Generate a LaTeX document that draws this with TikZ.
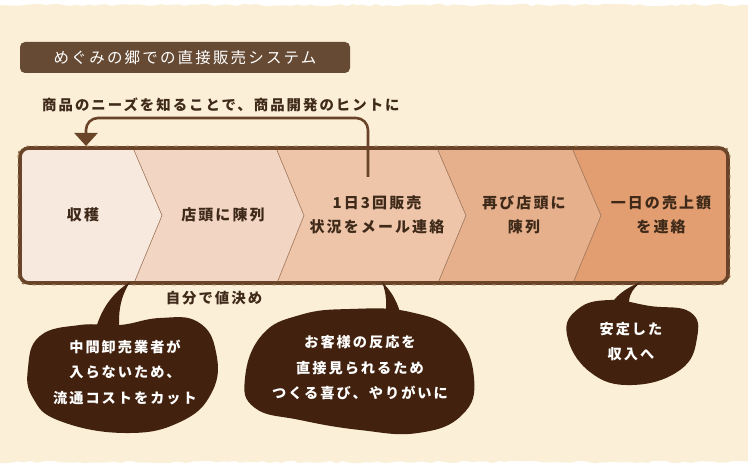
\documentclass[tikz,border=0pt]{standalone}
\usepackage{fontspec}
\setmainfont{Noto Sans CJK JP}
\newfontfamily\jpsp{Noto Sans CJK JP}[LetterSpace=14]
\usetikzlibrary{decorations.pathmorphing,arrows.meta}
\definecolor{cream}{HTML}{FBEFD7}
\definecolor{tabbrown}{HTML}{664A33}
\definecolor{bubble}{HTML}{42220E}
\definecolor{ink}{HTML}{3F2A1A}
\definecolor{bandline}{HTML}{694428}
\definecolor{bandlight}{HTML}{94704F}
\definecolor{segA}{HTML}{F8E9DF}
\definecolor{segB}{HTML}{F2D5C3}
\definecolor{segC}{HTML}{EEC5A9}
\definecolor{segD}{HTML}{E6B08C}
\definecolor{segE}{HTML}{E29E71}
\definecolor{divline}{HTML}{9C7458}
\tikzset{
  tabbox/.style={fill=tabbrown, rounded corners=5pt, minimum width=330pt, minimum height=31pt, inner sep=0pt,
    text=white, font=\jpsp\fontsize{15.5}{18}\selectfont},
  hinttext/.style={text=ink, font=\jpsp\bfseries\fontsize{14.4}{18}\selectfont, inner sep=0pt},
  steptext/.style={text=ink, align=center, font=\jpsp\bfseries\fontsize{15}{24}\selectfont, inner sep=0pt},
  bubtext/.style={text=white, align=center, font=\jpsp\bfseries\fontsize{14.2}{25.5}\selectfont, inner sep=0pt},
  fbline/.style={draw=bandline, line width=2.6pt, rounded corners=12pt},
  texture/.style={draw=bandlight, line width=1.2pt, dash pattern=on 3pt off 6pt on 2pt off 9pt},
  bubfill/.style={fill=bubble},
}
\begin{document}
\begin{tikzpicture}[x=1pt,y=-1pt]
\useasboundingbox (0,0) rectangle (748,468);
\fill[white] (0,0) rectangle (748,468);
\pgfmathsetseed{11}
\fill[cream, decorate, decoration={random steps,segment length=6pt,amplitude=1.3pt}]
  (-8,5) -- (756,5) -- (756,462) -- (-8,462) -- cycle;

% title
\node[tabbox] (title) at (185,57.5) {めぐみの郷での直接販売システム};

% hint text
\node[hinttext, anchor=west] (hint) at (42,105) {商品のニーズを知ることで、商品開発のヒントに};

% band segments
\begin{scope}
\clip[rounded corners=9pt] (20,148) rectangle (728,283);
\fill[segE] (10,140) rectangle (740,290);
\fill[segD] (10,148) -- (572,148) -- (601,215.5) -- (573,283) -- (10,283) -- cycle;
\fill[segC] (10,148) -- (437,148) -- (466,215.5) -- (438,283) -- (10,283) -- cycle;
\fill[segB] (10,148) -- (276,148) -- (304,215.5) -- (277,283) -- (10,283) -- cycle;
\fill[segA] (10,148) -- (133,148) -- (162,215.5) -- (134,283) -- (10,283) -- cycle;
\draw[divline, line width=0.6pt] (133,148) -- (162,215.5) -- (134,283);
\draw[divline, line width=0.6pt] (276,148) -- (304,215.5) -- (277,283);
\draw[divline, line width=0.6pt] (437,148) -- (466,215.5) -- (438,283);
\draw[divline, line width=0.6pt] (572,148) -- (601,215.5) -- (573,283);
\end{scope}
\node[draw=bandline, line width=3.6pt, rounded corners=9pt, minimum width=708pt, minimum height=135pt, inner sep=0pt]
  (band) at (374,215.5) {};
\draw[texture, rounded corners=9pt] (band.north west) rectangle (band.south east);

\node[steptext] (s1) at (83,215) {収穫};
\node[steptext] (s2) at (223,215) {店頭に陳列};
\node[steptext] (s3) at (377,215) {1日3回販売\\状況をメール連絡};
\node[steptext] (s4) at (524,215) {再び店頭に\\陳列};
\node[steptext] (s5) at (661,215) {一日の売上額\\を連絡};

% feedback arrow
\coordinate (fbfrom) at (368,177);
\coordinate (fbto) at (86,146);
\draw[fbline, -{Triangle[width=23pt,length=13pt]}] (fbfrom) -- (368,118) -- (86,118) -- (fbto);

% price label
\node[hinttext] (price) at (214,298) {自分で値決め};

% bubble 1
\fill[bubfill] (94,336) .. controls (100,308) and (114,292) .. (130,282) .. controls (121,296) and (117,312) .. (120,336) -- cycle;
\fill[bubfill] plot[smooth cycle, tension=0.75] coordinates {(28,368) (40,336) (80,325) (120,325) (160,318) (198,322) (216,352) (212,392) (180,422) (125,433) (60,421) (33,398)};
\node[bubtext] (b1) at (125,372.5) {中間卸売業者が\\入らないため、\\流通コストをカット};

% bubble 2
\fill[bubfill] (384,320) .. controls (388,305) and (386,292) .. (382,282) .. controls (392,292) and (398,302) .. (402,320) -- cycle;
\fill[bubfill] plot[smooth cycle, tension=0.75] coordinates {(245,378) (262,335) (300,315) (350,309) (410,312) (455,333) (474,378) (462,415) (418,433) (360,430) (300,420) (255,408)};
\node[bubtext] (b2) at (360,368) {お客様の反応を\\直接見られるため\\つくる喜び、やりがいに};

% bubble 3
\fill[bubfill] (608,310) .. controls (614,296) and (626,288) .. (641,282) .. controls (631,290) and (627,298) .. (630,310) -- cycle;
\fill[bubfill] plot[smooth cycle, tension=0.75] coordinates {(567,335) (578,309) (610,300) (650,306) (690,312) (697,338) (680,370) (632,385) (590,372)};
\node[bubtext] (b3) at (631,341.5) {安定した\\収入へ};
\end{tikzpicture}
\end{document}
